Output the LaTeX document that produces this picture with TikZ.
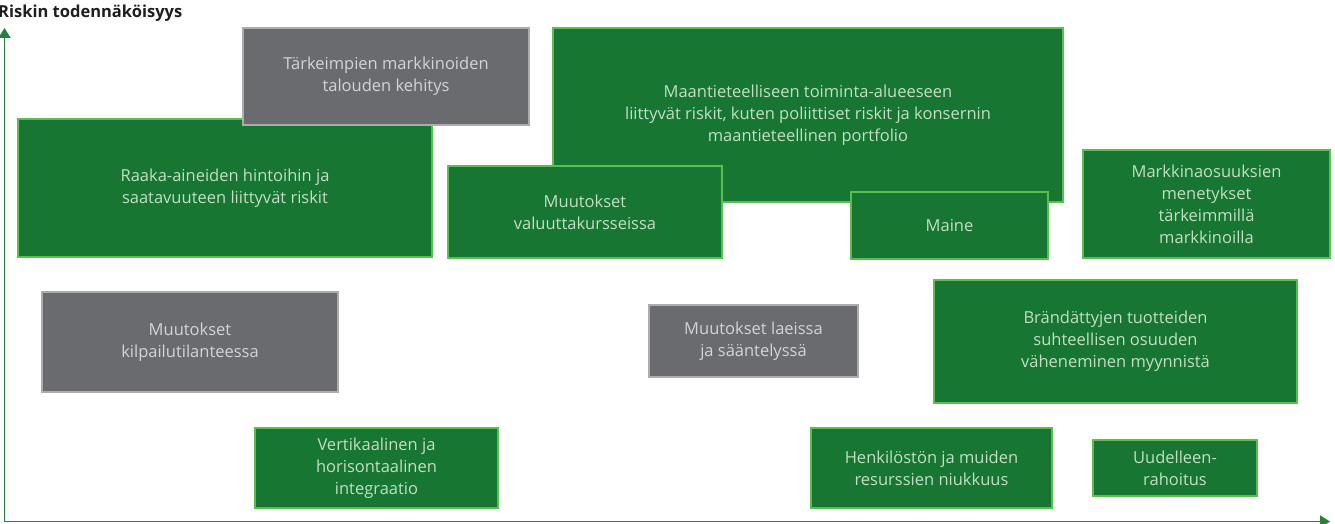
\documentclass[tikz,border=0pt]{standalone}
\usepackage{fontspec}
\setmainfont{Open Sans}
\usetikzlibrary{arrows.meta}
\definecolor{gfill}{RGB}{22,118,50}
\definecolor{gborder}{RGB}{92,190,80}
\definecolor{gtext}{RGB}{196,222,198}
\definecolor{yfill}{RGB}{106,107,111}
\definecolor{yborder}{RGB}{172,172,175}
\definecolor{ytext}{RGB}{212,212,214}
\definecolor{axisgreen}{RGB}{38,128,62}
\definecolor{titlecol}{RGB}{30,30,30}
\tikzset{
  riskbase/.style={line width=2pt, align=center, inner sep=0pt,
    font=\fontsize{16.5}{22}\selectfont},
  gbox/.style={riskbase, draw=gborder, fill=gfill, text=gtext},
  ybox/.style={riskbase, draw=yborder, fill=yfill, text=ytext},
  axisline/.style={draw=axisgreen, line width=1.5pt,
    -{Triangle[length=10pt,width=12pt]}},
}
\begin{document}
\begin{tikzpicture}[x=1pt,y=-1pt]
\useasboundingbox (0,0) rectangle (1335,524);
\coordinate (origin) at (4.5,521.5);
\coordinate (ytip) at (4.5,28);
\coordinate (xtip) at (1330,521.5);
\draw[axisline] (origin) -- (ytip);
\draw[axisline] (origin) -- (xtip);
\node[anchor=base west, inner sep=0pt, text=titlecol,
  font=\fontsize{16.5}{18}\selectfont\bfseries] (title) at (-2,18) {Riskin todennäköisyys};

\node[gbox, minimum width=414pt, minimum height=138pt] (raaka) at (225,188)
  {Raaka-aineiden hintoihin ja\\saatavuuteen liittyvät riskit};
\node[ybox, minimum width=286pt, minimum height=97pt] (tark) at (386,76.5)
  {Tärkeimpien markkinoiden\\talouden kehitys};
\node[gbox, minimum width=510pt, minimum height=174pt] (maant) at (808,115)
  {Maantieteelliseen toiminta-alueeseen\\liittyvät riskit, kuten poliittiset riskit ja konsernin\\maantieteellinen portfolio};
\node[gbox, minimum width=274pt, minimum height=92pt] (valuutta) at (585,212)
  {Muutokset\\valuuttakursseissa};
\node[gbox, minimum width=197pt, minimum height=67pt] (maine) at (949.5,225.5)
  {Maine};
\node[gbox, minimum width=247pt, minimum height=108pt] (markkina) at (1206.5,204)
  {Markkinaosuuksien\\menetykset\\tärkeimmillä\\markkinoilla};
\node[ybox, minimum width=296pt, minimum height=100pt] (kilpailu) at (190,342)
  {Muutokset\\kilpailutilanteessa};
\node[ybox, minimum width=209pt, minimum height=72pt] (laeissa) at (753.5,341)
  {Muutokset laeissa\\ja sääntelyssä};
\node[gbox, minimum width=363pt, minimum height=123pt] (brand) at (1115.5,341.5)
  {Brändättyjen tuotteiden\\suhteellisen osuuden\\väheneminen myynnistä};
\node[gbox, minimum width=243pt, minimum height=80pt] (vert) at (376.5,468)
  {Vertikaalinen ja\\horisontaalinen\\integraatio};
\node[gbox, minimum width=241pt, minimum height=80pt] (henk) at (931.5,468)
  {Henkilöstön ja muiden\\resurssien niukkuus};
\node[gbox, minimum width=164pt, minimum height=56pt] (uud) at (1175,468)
  {Uudelleen-\\rahoitus};
\end{tikzpicture}
\end{document}
